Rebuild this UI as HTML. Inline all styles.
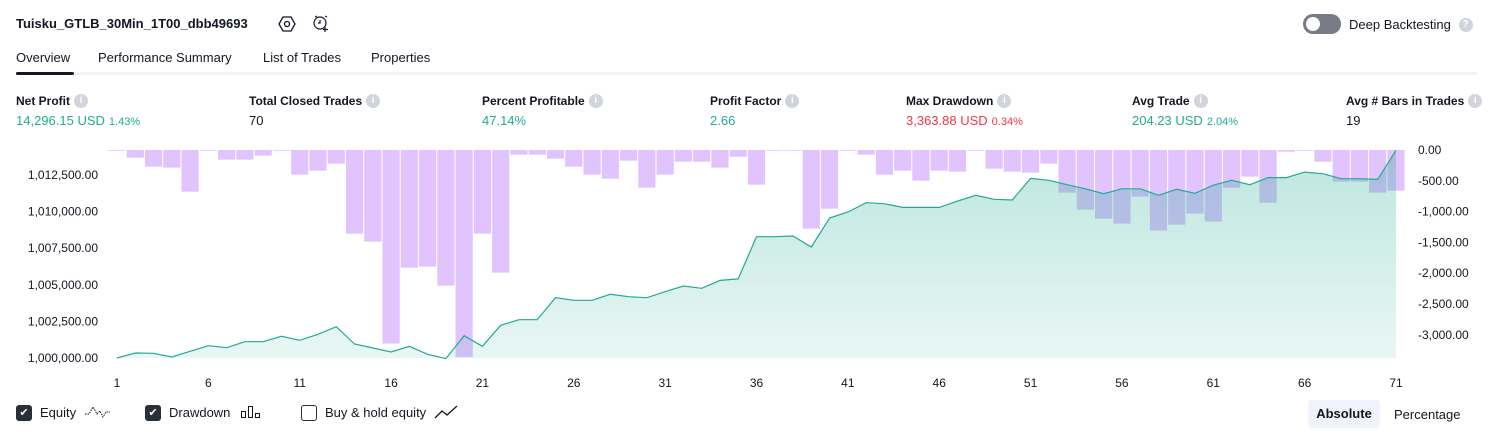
<!DOCTYPE html>
<html><head><meta charset="utf-8"><style>
body{margin:0;width:1494px;height:438px;background:#fff;font-family:"Liberation Sans",sans-serif;color:#131722;position:relative;overflow:hidden}
.a{position:absolute;white-space:nowrap}
.lbl{font-size:12px;font-weight:bold;color:#131722;height:14px;line-height:14px}
.info{display:inline-block;width:14px;height:14px;border-radius:50%;background:#d1d4dc;color:#fff;font-size:10px;text-align:center;line-height:14px;vertical-align:top;margin-left:4px;font-weight:bold}
.val{font-size:13px;line-height:15px}
.g{color:#22ab94}.r{color:#f23645}
.sm{font-size:11px;margin-left:4px}
.cb{display:inline-block;width:16px;height:16px;border-radius:3px;vertical-align:top;margin-right:8px;box-sizing:border-box}
.lg{font-size:13px;line-height:16px;height:16px}
</style></head><body>
<div class="a" style="left:16px;top:16px;font-size:13px;font-weight:bold">Tuisku_GTLB_30Min_1T00_dbb49693</div>
<svg class="a" style="left:278px;top:15px" width="18" height="18"><polygon points="5,2 13,2 17,9 13,16 5,16 1,9" fill="none" stroke="#131722" stroke-width="1.3"/><circle cx="9" cy="9" r="2.5" fill="none" stroke="#131722" stroke-width="1.3"/></svg>
<svg class="a" style="left:312px;top:14px" width="18" height="18"><circle cx="8" cy="9" r="6" fill="none" stroke="#131722" stroke-width="1.2"/><path d="M8 6v3h-2M13 13v5M11 15.5h5M3 3l2-1M13 2l2 1" stroke="#131722" fill="none" stroke-width="1.2"/></svg>
<div class="a" style="left:1303px;top:14px;width:38px;height:20px;border-radius:10px;background:#787b86"><div style="position:absolute;left:3px;top:3px;width:14px;height:14px;border-radius:50%;background:#fff"></div></div>
<div class="a" style="left:1349px;top:17px;font-size:13px;line-height:15px">Deep Backtesting <span class="info" style="background:#d1d4dc;margin-top:1px">?</span></div>
<div class="a" style="left:16px;top:50px;font-size:13px">Overview</div>
<div class="a" style="left:98px;top:50px;font-size:13px">Performance Summary</div>
<div class="a" style="left:263px;top:50px;font-size:13px">List of Trades</div>
<div class="a" style="left:371px;top:50px;font-size:13px">Properties</div>
<div class="a" style="left:16px;top:72px;width:1461px;height:3px;background:#f0f3fa"></div>
<div class="a" style="left:16px;top:72px;width:58px;height:3px;border-radius:2px;background:#131722"></div>

<div class="a" style="left:16px;top:94px"><div class="lbl">Net Profit<span class="info">i</span></div><div class="val g" style="margin-top:5px">14,296.15 USD<span class="sm">1.43%</span></div></div>
<div class="a" style="left:249px;top:94px"><div class="lbl">Total Closed Trades<span class="info">i</span></div><div class="val" style="margin-top:5px">70</div></div>
<div class="a" style="left:482px;top:94px"><div class="lbl">Percent Profitable<span class="info">i</span></div><div class="val g" style="margin-top:5px">47.14%</div></div>
<div class="a" style="left:710px;top:94px"><div class="lbl">Profit Factor<span class="info">i</span></div><div class="val g" style="margin-top:5px">2.66</div></div>
<div class="a" style="left:906px;top:94px"><div class="lbl">Max Drawdown<span class="info">i</span></div><div class="val r" style="margin-top:5px">3,363.88 USD<span class="sm">0.34%</span></div></div>
<div class="a" style="left:1132px;top:94px"><div class="lbl">Avg Trade<span class="info">i</span></div><div class="val g" style="margin-top:5px">204.23 USD<span class="sm">2.04%</span></div></div>
<div class="a" style="left:1346px;top:94px"><div class="lbl">Avg # Bars in Trades<span class="info">i</span></div><div class="val" style="margin-top:5px">19</div></div>

<svg id="chart" class="a" style="left:0;top:0" width="1494" height="400"></svg>

<div class="a lg" style="left:16px;top:405px"><span class="cb" style="background:#2a2e39;color:#fff;font-size:11px;text-align:center;line-height:16px">✔</span>Equity <svg width="26" height="14" style="vertical-align:top;margin-left:4px"><path d="M1 9h4l4-7 4 7 3-3 3 6 3-5h4" fill="none" stroke="#131722" stroke-dasharray="1.5 1"/></svg></div>
<div class="a lg" style="left:145px;top:405px"><span class="cb" style="background:#2a2e39;color:#fff;font-size:11px;text-align:center;line-height:16px">✔</span>Drawdown <svg width="22" height="14" style="vertical-align:top;margin-left:6px"><rect x="1.5" y="6.5" width="4" height="6" fill="none" stroke="#131722"/><rect x="8.5" y="1.5" width="4" height="11" fill="none" stroke="#131722"/><rect x="15.5" y="8.5" width="4" height="4" fill="none" stroke="#131722"/></svg></div>
<div class="a lg" style="left:301px;top:405px"><span class="cb" style="border:1.3px solid #2a2e39"></span>Buy &amp; hold equity <svg width="24" height="14" style="vertical-align:top;margin-left:4px"><path d="M1 13l7-7 5 4 10-9" fill="none" stroke="#131722" stroke-width="1.3"/></svg></div>
<div class="a" style="left:1308px;top:400px;width:72px;height:28px;border-radius:4px;background:#f0f3fa;font-size:13px;font-weight:bold;text-align:center;line-height:28px">Absolute</div>
<div class="a" style="left:1394px;top:407px;font-size:13px">Percentage</div>

<script>
const trades=[];for(let i=1;i<=71;i++)trades.push(i);
const drawdown=[-10,-125,-270,-287,-677,-10,-157,-157,-92,-10,-400,-336,-222,-1358,-1488,-3143,-1910,-1893,-2202,-3364,-1358,-1991,-76,-76,-141,-271,-400,-466,-174,-612,-400,-190,-190,-287,-109,-563,-10,-10,-1277,-953,-10,-76,-400,-336,-498,-336,-352,-10,-303,-352,-368,-222,-692,-968,-1114,-1195,-757,-1309,-1212,-1033,-1163,-612,-433,-855,-27,-10,-190,-514,-514,-692,-660];
const equity=[1000000,1000341,1000320,1000068,1000455,1000842,1000705,1001115,1001115,1001480,1001206,1001617,1002140,1000956,1000683,1000410,1000797,1000250,999960,1001525,1000797,1002232,1002617,1002617,1004120,1003940,1003940,1004350,1004190,1004120,1004530,1004920,1004760,1005300,1005400,1008285,1008285,1008330,1007580,1009560,1009970,1010610,1010540,1010290,1010290,1010290,1010720,1011110,1010840,1010790,1012270,1012140,1011840,1011560,1011220,1011560,1011560,1011110,1011520,1011250,1011800,1012140,1011840,1012320,1012320,1012700,1012590,1012250,1012250,1012200,1014190];
const leftTicks=[1000000,1002500,1005000,1007500,1010000,1012500];
const rightTicks=[0,-500,-1000,-1500,-2000,-2500,-3000];
const xTicks=[1,6,11,16,21,26,31,36,41,46,51,56,61,66,71];
const NS="http://www.w3.org/2000/svg",svg=document.getElementById('chart');
const x=i=>117+(i-1)*(1396-117)/70;
const yL=v=>358-(v-1000000)/2500*36.6;
const yR=v=>150-v/500*30.8;
const fmt=v=>v.toLocaleString('en-US',{minimumFractionDigits:2,maximumFractionDigits:2});
function mk(t,a){const e=document.createElementNS(NS,t);for(const k in a)e.setAttribute(k,a[k]);svg.appendChild(e);return e;}
const defs=mk('defs',{});defs.innerHTML='<linearGradient id="ag" x1="0" y1="0" x2="0" y2="1"><stop offset="0" stop-color="rgb(34,171,148)" stop-opacity="0.3"/><stop offset="1" stop-color="rgb(34,171,148)" stop-opacity="0.1"/></linearGradient>';
trades.forEach((t,k)=>{const y0=yR(0),y1=yR(drawdown[k]);
const b=mk('rect',{x:x(t)-8.6,y:y0,width:17.2,height:Math.max(0.8,y1-y0),fill:'#e1c4fd'});

});
let d='M'+x(1)+' 358';trades.forEach((t,k)=>d+=' L'+x(t).toFixed(1)+' '+yL(equity[k]).toFixed(1));d+=' L'+x(71)+' 358Z';
const ar=mk('path',{d:d,fill:'url(#ag)'});


const ln=mk('polyline',{points:trades.map((t,k)=>x(t).toFixed(1)+','+yL(equity[k]).toFixed(1)).join(' '),fill:'none',stroke:'#22ab94','stroke-width':1.2});


leftTicks.forEach(v=>{const e=mk('text',{x:98,y:yL(v)+4,'text-anchor':'end','font-size':12,fill:'#131722','font-family':'Liberation Sans'});e.textContent=fmt(v);

});
rightTicks.forEach(v=>{const e=mk('text',{x:1418,y:yR(v)+4,'font-size':12,fill:'#131722','font-family':'Liberation Sans'});e.textContent=fmt(v);

});
xTicks.forEach(v=>{const e=mk('text',{x:x(v),y:387,'text-anchor':'middle','font-size':12,fill:'#131722','font-family':'Liberation Sans'});e.textContent=v;

});
</script>
</body></html>
